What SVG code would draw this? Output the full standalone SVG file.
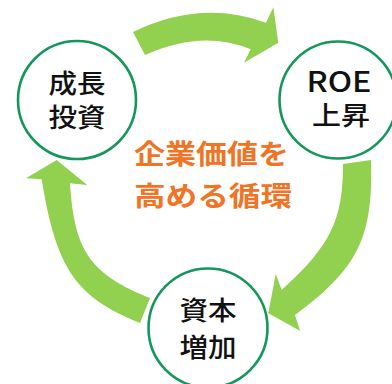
<svg xmlns="http://www.w3.org/2000/svg" width="392" height="384" viewBox="0 0 392 384">
<style>
.arrow{fill:#92D050;stroke:none}
.node circle{fill:#FFFFFF;stroke:#13975B;stroke-width:2.6}
.lbl{font-family:"Noto Sans CJK JP","Noto Sans",sans-serif;font-size:26px;font-weight:500;fill:#111111;text-anchor:middle}
.latin{font-family:"Noto Sans CJK JP","Noto Sans",sans-serif;font-size:28px;font-weight:500;fill:#111111;text-anchor:middle}
.center{font-family:"Noto Sans CJK JP","Noto Sans",sans-serif;font-size:27px;font-weight:700;fill:#EF7426}
</style>
<rect width="392" height="384" fill="#FFFFFF"/>
<g id="connectors">
<path class="arrow" d="M133,32 Q201,-1 266,22.7 L273.3,7.3 L278.3,42.7 L244,62.7 L250.7,49.3 Q202.5,29 145,55 Z"/>
<path class="arrow" d="M343,164 L371,160 C373.3,237.6 358.1,268.6 295,315 L300,330.7 L268.3,313.3 L275.7,274 L281.7,290 C330.7,245.4 343,220.2 343,164 Z"/>
<path class="arrow" d="M150,298 L140,323 C75.8,297.4 56.1,268.7 41.7,179.3 L26,178.3 L56.7,160 L87.3,185 L70,183.3 C74.3,251.2 90.3,274.2 150,298 Z"/>
</g>
<g id="node-growth" class="node">
<circle cx="77" cy="100" r="59"/>
<text class="lbl" x="77" y="92.5" textLength="57" lengthAdjust="spacingAndGlyphs">成長</text>
<text class="lbl" x="77" y="126.5" textLength="57" lengthAdjust="spacingAndGlyphs">投資</text>
</g>
<g id="node-roe" class="node">
<circle cx="338" cy="100" r="58.5"/>
<text class="latin" x="339" y="91.5" textLength="65" lengthAdjust="spacingAndGlyphs">ROE</text>
<text class="lbl" x="341" y="125" textLength="58" lengthAdjust="spacingAndGlyphs">上昇</text>
</g>
<g id="node-capital" class="node">
<circle cx="208" cy="328" r="59.5"/>
<text class="lbl" x="208" y="320" textLength="57" lengthAdjust="spacingAndGlyphs">資本</text>
<text class="lbl" x="208" y="357" textLength="57" lengthAdjust="spacingAndGlyphs">増加</text>
</g>
<g id="center-label">
<text class="center" x="134" y="164" textLength="155" lengthAdjust="spacingAndGlyphs">企業価値を</text>
<text class="center" x="134" y="205.5" textLength="158" lengthAdjust="spacingAndGlyphs">高める循環</text>
</g>
</svg>
